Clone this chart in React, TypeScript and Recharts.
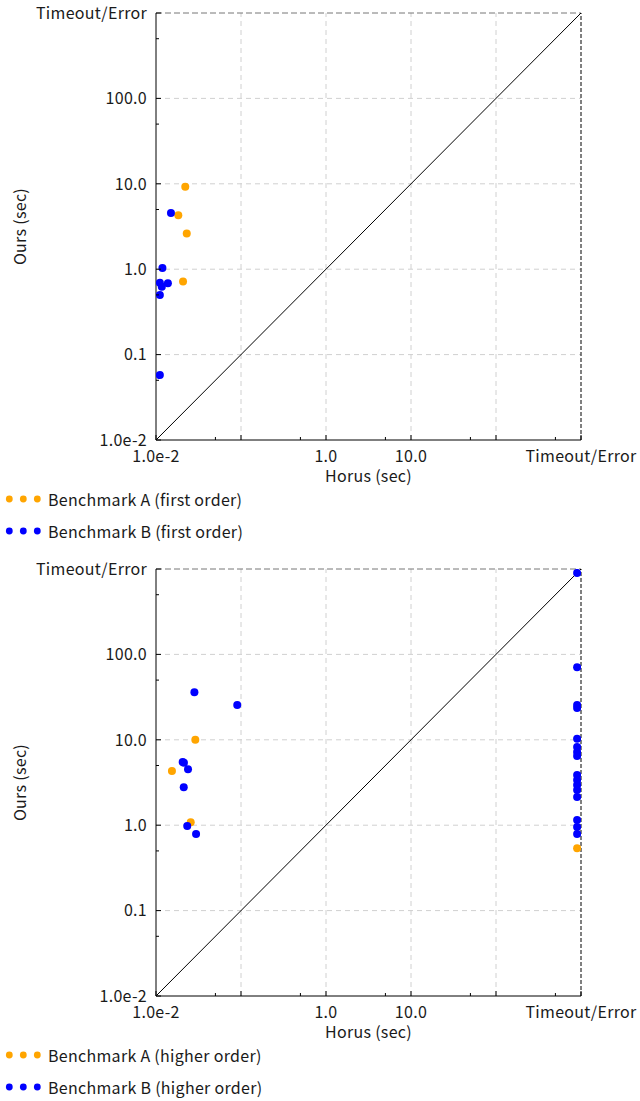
import React from "react";
import { ScatterChart, Scatter, XAxis, YAxis, ReferenceLine } from "recharts";

const MAJOR = [0.01, 0.1, 1, 10, 100, 1000];
const MINOR = [0.05, 0.5, 5, 50, 500];
const TICKS = [...MAJOR, ...MINOR].sort((a, b) => a - b);
const TICK_LABELS = ["1.0e-2", "0.1", "1.0", "10.0", "100.0", "Timeout/Error"];
const X_HIDDEN = [0.1, 100];
const GRID = [0.1, 1, 10, 100];

// first order
const firstA_horus = [0.0221, 0.0183, 0.023, 0.0208];
const firstA_ours = [9.25, 4.28, 2.61, 0.72];
const firstB_horus = [0.015, 0.0119, 0.0111, 0.0117, 0.0138, 0.0111, 0.0111];
const firstB_ours = [4.55, 1.03, 0.695, 0.624, 0.684, 0.499, 0.0577];

// higher order (timeouts drawn at 900)
const higherA_horus = [0.029, 0.0154, 0.0256, 900];
const higherA_ours = [10.0, 4.31, 1.08, 0.536];
const higherB_horus = [
  0.0283, 0.0903, 0.0206, 0.0213, 0.0238, 0.0212, 0.0233, 0.0296,
  900, 900, 900, 900, 900, 900, 900, 900, 900, 900, 900, 900, 900, 900, 900, 900,
];
const higherB_ours = [
  36.0, 25.5, 5.5, 5.39, 4.51, 2.78, 0.979, 0.788,
  900, 70.6, 25.5, 23.6, 10.3, 8.24, 7.2, 6.46, 3.87, 3.38, 2.96, 2.58, 2.14, 1.15, 0.953, 0.789,
];

const ORANGE = "#ffa500";
const BLUE = "#0000ff";
const FONT = "'Noto Sans CJK JP', 'Noto Sans', sans-serif";
const FS = 16;
const LS = 0.3;

const zip = (xs: number[], ys: number[]) => xs.map((x, i) => ({ x, y: ys[i] }));

const labelFor = (v: number) => TICK_LABELS[MAJOR.indexOf(v)];

function XTick(props: any) {
  const { x, y, payload } = props;
  const v = payload.value;
  const major = MAJOR.includes(v);
  return (
    <g>
      <line x1={x} x2={x} y1={y} y2={y - (major ? 5 : 3)} stroke="#000" />
      {major && !X_HIDDEN.includes(v) && (
        <text x={x} y={y + 22} textAnchor="middle" fontSize={FS} letterSpacing={LS} fontFamily={FONT} fill="#1a1a1a">
          {labelFor(v)}
        </text>
      )}
    </g>
  );
}

function YTick(props: any) {
  const { x, y, payload } = props;
  const v = payload.value;
  const major = MAJOR.includes(v);
  return (
    <g>
      <line x1={x} x2={x + (major ? 5 : 3)} y1={y} y2={y} stroke="#000" />
      {major && (
        <text x={x - 9} y={y} dy="0.36em" textAnchor="end" fontSize={FS} letterSpacing={LS} fontFamily={FONT} fill="#1a1a1a">
          {labelFor(v)}
        </text>
      )}
    </g>
  );
}

const dot = (color: string) => (p: any) => <circle cx={p.cx} cy={p.cy} r={4} fill={color} />;

function LegendRow({ color, text, top }: { color: string; text: string; top: number }) {
  return (
    <div style={{ position: "absolute", left: 0, top, height: 32, display: "flex", alignItems: "center" }}>
      <svg width={48} height={32}>
        {[9.3, 23.3, 37.3].map((cx) => (
          <circle key={cx} cx={cx} cy={16} r={3.4} fill={color} />
        ))}
      </svg>
      <span style={{ fontFamily: FONT, fontSize: FS, letterSpacing: LS, color: "#1a1a1a", marginLeft: 0 }}>{text}</span>
    </div>
  );
}

function Plot({ top, a, b, nameA, nameB }: { top: number; a: any[]; b: any[]; nameA: string; nameB: string }) {
  return (
    <div style={{ position: "absolute", left: 0, top, width: 640, height: 550 }}>
      <ScatterChart width={640} height={492} margin={{ top: 13, right: 59, left: 0, bottom: 0 }}>
        {GRID.map((g) => (
          <ReferenceLine key={"v" + g} x={g} stroke="#d0d0d0" strokeDasharray="5 4" />
        ))}
        {GRID.map((g) => (
          <ReferenceLine key={"h" + g} y={g} stroke="#d0d0d0" strokeDasharray="5 4" />
        ))}
        <ReferenceLine y={1000} stroke="#777" strokeDasharray="6 3" />
        <ReferenceLine x={1000} stroke="#000" strokeDasharray="4 2" />
        <ReferenceLine
          segment={[
            { x: 0.01, y: 0.01 },
            { x: 1000, y: 1000 },
          ]}
          stroke="#000"
          strokeWidth={1}
        />
        <XAxis
          type="number"
          dataKey="x"
          scale="log"
          domain={[0.01, 1000]}
          ticks={TICKS}
          interval={0}
          allowDataOverflow
          height={52}
          axisLine={{ stroke: "#000" }}
          tickLine={false}
          tickSize={0}
          tickMargin={0}
          tick={<XTick />}
          label={{
            value: "Horus (sec)",
            position: "insideBottom",
            offset: 10,
            fontSize: FS,
            fontFamily: FONT,
            fill: "#1a1a1a",
            style: { letterSpacing: LS },
          }}
        />
        <YAxis
          type="number"
          dataKey="y"
          scale="log"
          domain={[0.01, 1000]}
          ticks={TICKS}
          interval={0}
          allowDataOverflow
          width={156}
          axisLine={{ stroke: "#000" }}
          tickLine={false}
          tickSize={0}
          tickMargin={0}
          tick={<YTick />}
          label={{
            value: "Ours (sec)",
            angle: -90,
            position: "insideLeft",
            offset: 20,
            fontSize: FS,
            fontFamily: FONT,
            fill: "#1a1a1a",
            style: { textAnchor: "middle", letterSpacing: LS },
          }}
        />
        <Scatter data={a} fill={ORANGE} shape={dot(ORANGE)} isAnimationActive={false} />
        <Scatter data={b} fill={BLUE} shape={dot(BLUE)} isAnimationActive={false} />
      </ScatterChart>
      <LegendRow color={ORANGE} text={nameA} top={483} />
      <LegendRow color={BLUE} text={nameB} top={515} />
    </div>
  );
}

export default function App() {
  return (
    <div style={{ position: "absolute", left: 0, top: 0, width: 640, height: 1101, background: "#fff" }}>
      <Plot
        top={0}
        a={zip(firstA_horus, firstA_ours)}
        b={zip(firstB_horus, firstB_ours)}
        nameA="Benchmark A (first order)"
        nameB="Benchmark B (first order)"
      />
      <Plot
        top={556}
        a={zip(higherA_horus, higherA_ours)}
        b={zip(higherB_horus, higherB_ours)}
        nameA="Benchmark A (higher order)"
        nameB="Benchmark B (higher order)"
      />
    </div>
  );
}
